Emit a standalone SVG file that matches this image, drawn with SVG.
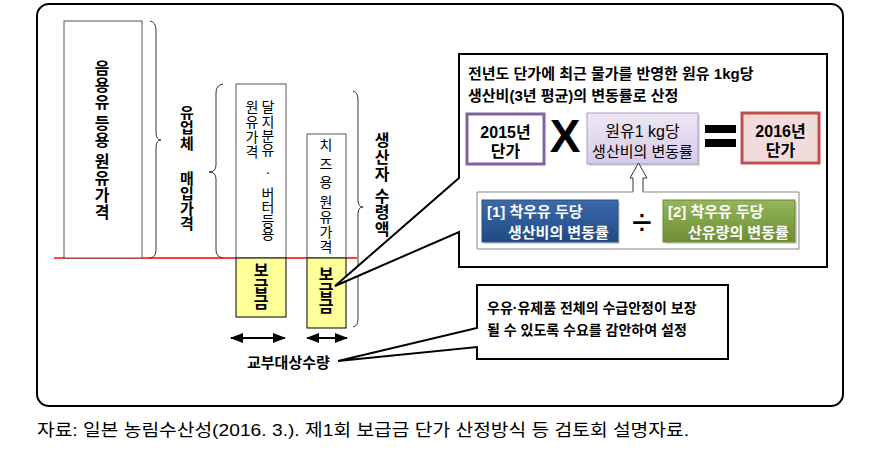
<svg xmlns="http://www.w3.org/2000/svg" width="892" height="462" viewBox="0 0 892 462">
<defs>
<style>
text{font-family:"Liberation Sans","Noto Sans CJK KR",sans-serif;fill:#000}
.b{font-weight:bold}
.box{fill:#fff;stroke:#555;stroke-width:1}
.brace{fill:none;stroke:#333;stroke-width:1}
.call{fill:#fff;stroke:#000;stroke-width:2;stroke-linejoin:miter}
.yel{fill:#FFFF99;stroke:#000;stroke-width:1}
.wt{fill:#fff;font-weight:bold;font-size:15px}
.c{text-anchor:middle}
</style>
<marker id="ah" viewBox="0 0 13 10" refX="12" refY="5" markerWidth="6.500" markerHeight="5" orient="auto-start-reverse" markerUnits="strokeWidth">
<path d="M0,0 L13,5 L0,10 Z" fill="#000"/>
</marker>
<linearGradient id="gp" x1="0" y1="0" x2="0" y2="1"><stop offset="0" stop-color="#EEE8F5"/><stop offset="1" stop-color="#D6CAE7"/></linearGradient>
<linearGradient id="gb" x1="0" y1="0" x2="0" y2="1"><stop offset="0" stop-color="#3C6AAE"/><stop offset="1" stop-color="#1F4A80"/></linearGradient>
<linearGradient id="gg" x1="0" y1="0" x2="0" y2="1"><stop offset="0" stop-color="#95B65A"/><stop offset="1" stop-color="#6E8D36"/></linearGradient>
</defs>

<rect x="37" y="4" width="806" height="402" rx="12" ry="12" fill="#fff" stroke="#000" stroke-width="2"/>

<g id="connectors">
<line x1="54" y1="258" x2="357" y2="258" stroke="#FF0000" stroke-width="1.5"/>
<line x1="231" y1="338" x2="285" y2="338" stroke="#000" stroke-width="2" marker-start="url(#ah)" marker-end="url(#ah)"/>
<line x1="307" y1="338" x2="347" y2="338" stroke="#000" stroke-width="2" marker-start="url(#ah)" marker-end="url(#ah)"/>
<path class="brace" d="M150,21 Q156,22 156,30 L156,132 Q156,140 161,140 Q156,140 156,148 L156,250 Q156,257 150,258"/>
<path class="brace" d="M223,84 Q216,85 216,93 L216,165 Q216,172 209,172 Q216,172 216,179 L216,250 Q216,257 223,258"/>
<path class="brace" d="M353,91 Q358,92 358,100 L358,200 Q358,207 363,207 Q358,207 358,214 L358,319 Q358,326 353,327"/>
</g>

<g id="n-drinking">
<rect class="box" x="64" y="21" width="78" height="237"/>
<text class="b c" font-size="16" x="102 102 102 102 102 102 102 102 102 102 102" y="73.5 90.5 107.5 118 128.5 145.5 156 166.5 183.5 200.5 217.5">음용유 등용 원유가격</text>
</g>

<g id="n-dairy-buy">
<text class="b c" font-size="15" x="187 187 187 187 187 187 187 187" y="117.5 132.5 148.5 160 183.5 198.5 213.5 228.5">유업체 매입가격</text>
</g>

<g id="n-powder">
<rect class="box" x="236" y="84" width="50" height="174"/>
<text class="c" font-size="14" x="268 268 268 268 268 268 268 268 268 268 268" y="112 127 141 155 165 177 190 199 212 226 239">달지분유 · 버터등용</text>
<text class="c" font-size="14" x="252 252 252 252" y="112 127 142 157">원유가격</text>
<rect class="yel" x="236" y="258" width="50" height="59"/>
<text class="b c" font-size="16" x="261 261 261" y="275.500 291.500 307.500">보급금</text>
</g>

<g id="n-cheese">
<rect class="box" x="307" y="134" width="39" height="124"/>
<text class="c" font-size="14" x="326 326 326 326 326 326 326 326" y="150 169 187 197 207 222 237 252">치즈용 원유가격</text>
<rect class="yel" x="307" y="258" width="39" height="70"/>
<text class="b c" font-size="16" x="326 326 326" y="280 296 312">보급금</text>
</g>

<g id="n-producer">
<text class="b c" font-size="16" x="382 382 382 382 382 382 382" y="146 163 180 190 202 218 235">생산자 수령액</text>
</g>

<g id="n-quantity">
<text class="b" x="247" y="368" font-size="15">교부대상수량</text>
</g>

<g id="n-callout-formula">
<path class="call" d="M459,178 L459,54 L827,54 L827,267 L459,267 L459,232 L335,286 Z"/>
<text class="b" x="468" y="79" font-size="15">전년도 단가에 최근 물가를 반영한 원유 1kg당</text>
<text class="b" x="468" y="101" font-size="15">생산비(3년 평균)의 변동률로 산정</text>

<g id="n-2015">
<rect x="467" y="114" width="77" height="50" fill="#fff" stroke="#8064A2" stroke-width="3"/>
<text class="b c" x="505.500" y="138" font-size="16">2015년</text>
<text class="b c" x="505.500" y="157" font-size="16">단가</text>
</g>
<text class="b c" x="565" y="152" font-size="46">X</text>
<g id="n-rate">
<rect x="589" y="115" width="111" height="51" fill="#999" opacity="0.35"/>
<rect x="587" y="113" width="111" height="51" fill="url(#gp)" stroke="#A999C8" stroke-width="1"/>
<text class="c" x="642.500" y="137" font-size="16">원유1 kg당</text>
<text class="c" x="642.500" y="157" font-size="15">생산비의 변동률</text>
</g>
<rect x="705" y="125" width="31" height="8" fill="#000"/>
<rect x="705" y="139" width="31" height="8" fill="#000"/>
<g id="n-2016">
<rect x="742" y="113" width="77" height="50" fill="#F2DCDB" stroke="#C0504D" stroke-width="3"/>
<text class="b c" x="780.500" y="137" font-size="16">2016년</text>
<text class="b c" x="780.500" y="156" font-size="16">단가</text>
</g>
<path d="M633,192 L633,178 L630,178 L638.500,163 L647,178 L643,178 L643,192" fill="#fff" stroke="#333" stroke-width="1"/>
<path d="M633,192 L477,192 L477,249 L799,249 L799,192 L643,192" fill="none" stroke="#888" stroke-width="1"/>
<g id="n-cost">
<rect x="484" y="202" width="136" height="42" fill="#999" opacity="0.4"/>
<rect x="482" y="200" width="136" height="42" fill="url(#gb)" stroke="#2A4E80" stroke-width="1"/>
<text class="wt" x="487" y="217">[1] 착우유 두당</text>
<text class="wt" x="508" y="238">생산비의 변동률</text>
</g>
<text class="c" x="642" y="235" font-size="36">÷</text>
<g id="n-yield">
<rect x="665" y="202" width="132" height="42" fill="#999" opacity="0.4"/>
<rect x="663" y="200" width="132" height="42" fill="url(#gg)" stroke="#6A8A33" stroke-width="1"/>
<text class="wt" x="668" y="217">[2] 착우유 두당</text>
<text class="wt" x="688" y="238">산유량의 변동률</text>
</g>
</g>

<g id="n-callout-supply">
<path class="call" d="M477,328 L477,285 L728,285 L728,359 L477,359 L477,347 L338,361 Z"/>
<text class="b" x="487" y="313" font-size="14">우유·유제품 전체의 수급안정이 보장</text>
<text class="b" x="487" y="335" font-size="14">될 수 있도록 수요를 감안하여 설정</text>
</g>

<text x="37" y="436" font-size="17" textLength="652" lengthAdjust="spacingAndGlyphs">자료: 일본 농림수산성(2016. 3.). 제1회 보급금 단가 산정방식 등 검토회 설명자료.</text>
</svg>
